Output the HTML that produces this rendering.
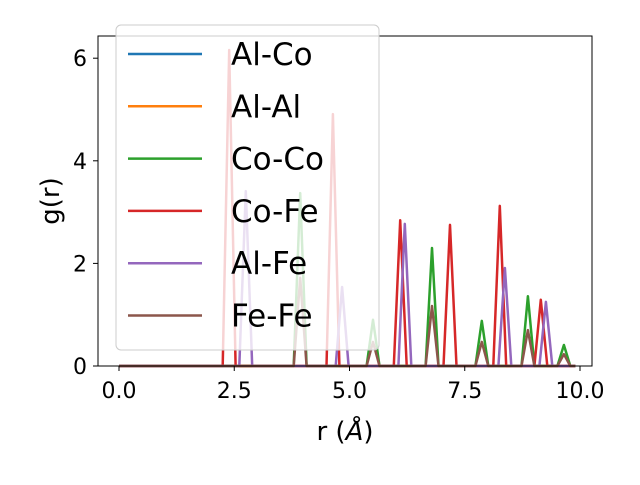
<!DOCTYPE html>
<html><head><meta charset="utf-8"><style>
body{margin:0;background:#fff;}
svg text{font-family:"DejaVu Sans","Liberation Sans",sans-serif;}
</style></head><body>
<svg id="chart" width="640" height="480" viewBox="0 0 640 480" xmlns="http://www.w3.org/2000/svg">
<rect width="640" height="480" fill="#fff"/>
<g id="series"></g>
<rect x="98" y="36" width="494" height="330" fill="none" stroke="#000" stroke-width="1"/>
<g id="xticks"></g>
<g id="yticks"></g>
<text x="345" y="440" font-size="26" text-anchor="middle">r (<tspan font-style="italic">Å</tspan>)</text>
<text transform="translate(59,201) rotate(-90)" font-size="26" text-anchor="middle">g(r)</text>
<g id="legend"></g>
</svg>
<script>
const seriesNames=["Al-Co","Al-Al","Co-Co","Co-Fe","Al-Fe","Fe-Fe"];
const seriesColors=["#1f77b4","#ff7f0e","#2ca02c","#d62728","#9467bd","#8c564b"];
const alCoR=[];const alCoG=[];
const alAlR=[];const alAlG=[];
const coCoR=[3.93,5.51,6.79,7.87,8.87,9.65];
const coCoG=[3.37,0.90,2.30,0.88,1.36,0.41];
const coFeR=[2.39,4.64,6.10,7.18,8.26,9.15];
const coFeG=[6.16,4.91,2.84,2.75,3.12,1.29];
const alFeR=[2.75,4.84,6.20,8.37,9.26];
const alFeG=[3.41,1.54,2.77,1.91,1.25];
const feFeR=[3.93,5.51,6.79,7.87,8.87,9.65];
const feFeG=[1.72,0.47,1.17,0.47,0.70,0.23];
const xTicks=[0,2.5,5,7.5,10];const xTickLabels=["0.0","2.5","5.0","7.5","10.0"];
const yTicks=[0,2,4,6];const yTickLabels=["0","2","4","6"];
const NS="http://www.w3.org/2000/svg";
const xs=v=>119+v*46.1, ys=v=>366-v*51.3;
const peaks=[[alCoR,alCoG],[alAlR,alAlG],[coCoR,coCoG],[coFeR,coFeG],[alFeR,alFeG],[feFeR,feFeG]];
const hw=0.14;
const sg=document.getElementById('series');
peaks.forEach((p,i)=>{
  const pts=[[0,0]];
  const idx=p[0].map((r,k)=>k).sort((a,b)=>p[0][a]-p[0][b]);
  idx.forEach(k=>{const r=p[0][k];pts.push([r-hw,0],[r,p[1][k]],[r+hw,0]);});
  pts.push([9.9,0]);
  const pl=document.createElementNS(NS,'polyline');
  
  
  pl.setAttribute('points',pts.map(q=>xs(q[0]).toFixed(1)+','+ys(q[1]).toFixed(1)).join(' '));
  pl.setAttribute('fill','none');pl.setAttribute('stroke',seriesColors[i]);pl.setAttribute('stroke-width','2.5');
  pl.setAttribute('stroke-linejoin','round');
  sg.appendChild(pl);
});
const xg=document.getElementById('xticks');
xTicks.forEach((v,i)=>{
  const l=document.createElementNS(NS,'line');
  
  
  l.setAttribute('x1',xs(v));l.setAttribute('x2',xs(v));l.setAttribute('y1',366);l.setAttribute('y2',371);l.setAttribute('stroke','#000');
  xg.appendChild(l);
  const t=document.createElementNS(NS,'text');
  
  
  t.setAttribute('x',xs(v));t.setAttribute('y',398);t.setAttribute('font-size','22');t.setAttribute('text-anchor','middle');
  t.textContent=xTickLabels[i];xg.appendChild(t);
});
const yg=document.getElementById('yticks');
yTicks.forEach((v,i)=>{
  const l=document.createElementNS(NS,'line');
  
  
  l.setAttribute('x1',93);l.setAttribute('x2',98);l.setAttribute('y1',ys(v));l.setAttribute('y2',ys(v));l.setAttribute('stroke','#000');
  yg.appendChild(l);
  const t=document.createElementNS(NS,'text');
  
  
  t.setAttribute('x',87);t.setAttribute('y',ys(v)+8);t.setAttribute('font-size','22');t.setAttribute('text-anchor','end');
  t.textContent=yTickLabels[i];yg.appendChild(t);
});
const lg=document.getElementById('legend');
const box=document.createElementNS(NS,'rect');


box.setAttribute('x',116);box.setAttribute('y',25);box.setAttribute('width',263);box.setAttribute('height',325);box.setAttribute('rx',5);
box.setAttribute('fill','rgba(255,255,255,0.8)');box.setAttribute('stroke','#ccc');
lg.appendChild(box);
seriesNames.forEach((n,i)=>{
  const y=54+i*52.3;
  const l=document.createElementNS(NS,'line');
  
  
  l.setAttribute('x1',128);l.setAttribute('x2',202);l.setAttribute('y1',y);l.setAttribute('y2',y);
  l.setAttribute('stroke',seriesColors[i]);l.setAttribute('stroke-width','2.5');
  lg.appendChild(l);
  const t=document.createElementNS(NS,'text');
  
  
  t.setAttribute('x',231);t.setAttribute('y',y+11);t.setAttribute('font-size','31');
  t.textContent=n;lg.appendChild(t);
});
</script>
</body></html>
